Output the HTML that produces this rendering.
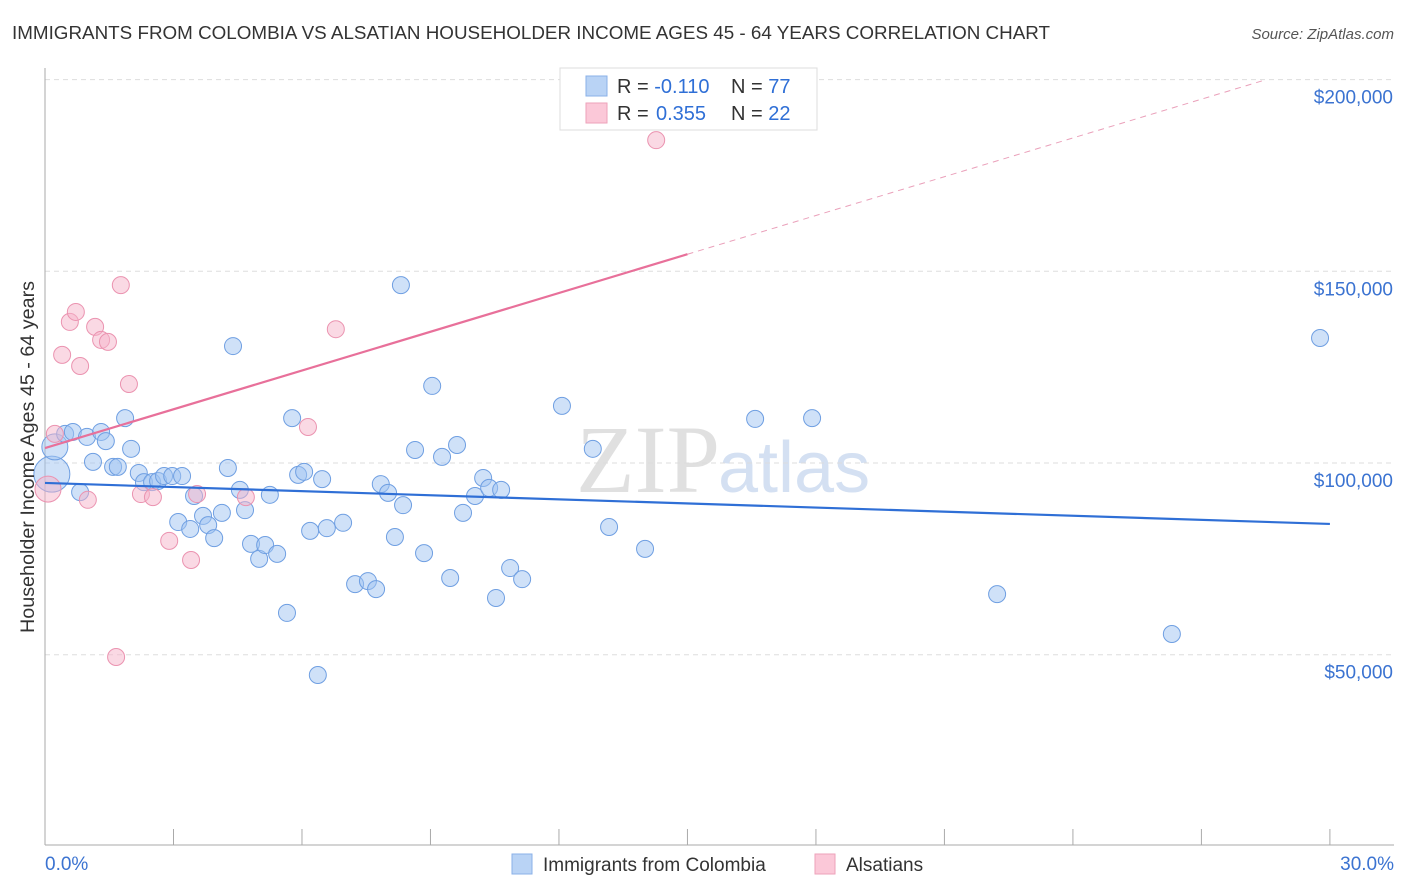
<!DOCTYPE html>
<html><head><meta charset="utf-8"><style>
body{margin:0;background:#fff;font-family:"Liberation Sans",sans-serif;}
svg{display:block}
</style></head><body>
<svg id="c" width="1406" height="892" xmlns="http://www.w3.org/2000/svg">
<text x="12" y="39" font-size="18" fill="#333" textLength="1038" lengthAdjust="spacingAndGlyphs">IMMIGRANTS FROM COLOMBIA VS ALSATIAN HOUSEHOLDER INCOME AGES 45 - 64 YEARS CORRELATION CHART</text>
<text x="1394" y="39" font-size="15" fill="#555" font-style="italic" text-anchor="end">Source: ZipAtlas.com</text>
<text x="720" y="492" font-size="96" fill="#ccc" opacity="0.6" text-anchor="end" font-family="Liberation Serif">ZIP</text>
<text x="718" y="492" font-size="72" fill="#b8cdea" opacity="0.6">atlas</text>
<g id="grid"></g><g id="axes"></g><g id="marks"></g>
<text transform="translate(34,457) rotate(-90)" font-size="19" fill="#333" text-anchor="middle" textLength="352" lengthAdjust="spacingAndGlyphs">Householder Income Ages 45 - 64 years</text>
<g>
<rect x="560" y="68" width="257" height="62" fill="#fff" stroke="#ddd"/>
<rect x="586" y="76" width="21" height="20" fill="#b9d3f5" stroke="#8ab0e8"/>
<rect x="586" y="103" width="21" height="20" fill="#fbc8d8" stroke="#eea2ba"/>
<text x="617" y="93" font-size="20" fill="#333">R = <tspan fill="#2f6fd6">-0.110</tspan><tspan x="731">N = </tspan><tspan fill="#2f6fd6">77</tspan></text>
<text x="617" y="120" font-size="20" fill="#333">R = <tspan x="656" fill="#2f6fd6">0.355</tspan><tspan x="731">N = </tspan><tspan fill="#2f6fd6">22</tspan></text>
</g>
<g>
<rect x="512" y="854" width="20" height="20" fill="#b9d3f5" stroke="#8ab0e8"/>
<text x="543" y="871" font-size="19" fill="#333">Immigrants from Colombia</text>
<rect x="815" y="854" width="20" height="20" fill="#fbc8d8" stroke="#eea2ba"/>
<text x="846" y="871" font-size="19" fill="#333">Alsatians</text>
</g>
</svg>
<script>
const blueX=[0.16,0.23,0.47,0.65,0.98,1.31,1.42,1.87,2.01,1.12,1.59,1.70,0.82,2.19,2.31,2.50,2.64,2.78,2.97,3.20,3.48,3.11,3.39,3.69,3.81,3.95,4.13,4.27,4.39,4.55,4.67,4.81,5.00,5.14,5.25,5.42,5.65,5.77,5.91,6.05,6.19,6.37,6.47,6.58,6.96,7.24,7.54,7.73,7.84,8.01,8.17,8.31,8.36,8.64,8.85,9.04,9.27,9.46,9.62,9.76,10.04,10.23,10.37,10.53,10.65,10.86,11.14,12.07,12.79,13.17,14.01,16.58,17.91,22.23,26.31,29.77];
const blueY=[97.1,104.2,107.6,108.1,106.8,108.1,105.7,111.7,103.7,100.3,99.0,99.0,92.4,97.4,95.0,95.0,95.3,96.6,96.6,96.6,91.4,84.6,82.8,86.2,83.8,80.4,87.0,98.7,130.5,93.0,87.7,78.9,75.0,78.6,91.7,76.3,60.9,111.7,96.9,97.7,82.3,44.7,95.8,83.0,84.4,68.4,69.2,67.1,94.5,92.2,80.7,146.4,89.0,103.4,76.5,120.1,101.6,70.0,104.7,87.0,91.4,96.1,93.5,64.8,93.0,72.6,69.7,114.9,103.7,83.3,77.6,111.5,111.7,65.8,55.4,132.6];
const pinkX=[0.07,0.23,0.40,0.58,0.72,0.82,1.00,1.17,1.31,1.47,1.66,1.77,1.96,2.24,2.52,2.90,3.41,3.55,4.69,6.14,6.79,14.27];
const pinkY=[93.2,107.6,128.2,136.8,139.4,125.3,90.4,135.5,132.1,131.6,49.4,146.4,120.6,91.9,91.1,79.7,74.7,91.9,91.1,109.4,134.9,184.2];
const blueTrend=[94.8,84.1];
const pinkTrend=[103.9,3.37];
const yTicks=[50,100,150,200];
const xTickLabels=["0.0%","30.0%"];
const NS="http://www.w3.org/2000/svg";
const sx=v=>45+v*42.83, sy=v=>463-(v-100)*3.834;
function mk(p,t,a){const e=document.createElementNS(NS,t);for(const k in a)e.setAttribute(k,a[k]);document.getElementById(p).appendChild(e);return e;}
yTicks.forEach(t=>{
 const l=mk('grid','line',{x1:45,x2:1394,y1:sy(t),y2:sy(t),stroke:'#ddd','stroke-dasharray':'5,4'});
 
 
 const tx=mk('axes','text',{x:1393,y:sy(t)+24,'font-size':19,fill:'#3b73d1','text-anchor':'end'});
 tx.textContent='$'+t+',000';
 
 
});
const ax=mk('axes','line',{x1:45,x2:1394,y1:845,y2:845,stroke:'#aaa'});


const ay=mk('axes','line',{x1:45,x2:45,y1:68,y2:845,stroke:'#aaa'});


for(let i=0;i<=10;i++){const t=mk('axes','line',{x1:sx(i*3),x2:sx(i*3),y1:829,y2:845,stroke:'#aaa'});
 
 }
[[45,'start'],[1394,'end']].forEach((p,i)=>{const t=mk('axes','text',{x:p[0],y:870,'font-size':19,fill:'#3b73d1','text-anchor':p[1]});t.textContent=xTickLabels[i];
 
 });
blueX.forEach((x,i)=>{const r=i==0?18:(i==1?13:8.5);const c=mk('marks','circle',{cx:sx(x),cy:sy(blueY[i]),r:r,fill:'rgba(160,196,242,0.5)',stroke:'#6f9fe2','stroke-width':1});
 
 });
pinkX.forEach((x,i)=>{const r=i==0?13:8.5;const c=mk('marks','circle',{cx:sx(x),cy:sy(pinkY[i]),r:r,fill:'rgba(246,180,202,0.5)',stroke:'#eb93b0','stroke-width':1});
 
 });
const bl=mk('marks','line',{x1:sx(0),y1:sy(blueTrend[0]),x2:sx(30),y2:sy(blueTrend[1]),stroke:'#2f6fd6','stroke-width':2.2});


const pl=mk('marks','line',{x1:sx(0),y1:sy(pinkTrend[0]),x2:sx(15),y2:sy(pinkTrend[0]+pinkTrend[1]*15),stroke:'#e8709a','stroke-width':2.2});


const xe=(200-pinkTrend[0])/pinkTrend[1];
const pd=mk('marks','line',{x1:sx(15),y1:sy(pinkTrend[0]+pinkTrend[1]*15),x2:sx(xe),y2:sy(200),stroke:'#eaa0ba','stroke-width':1,'stroke-dasharray':'6,5'});


</script>
</body></html>
